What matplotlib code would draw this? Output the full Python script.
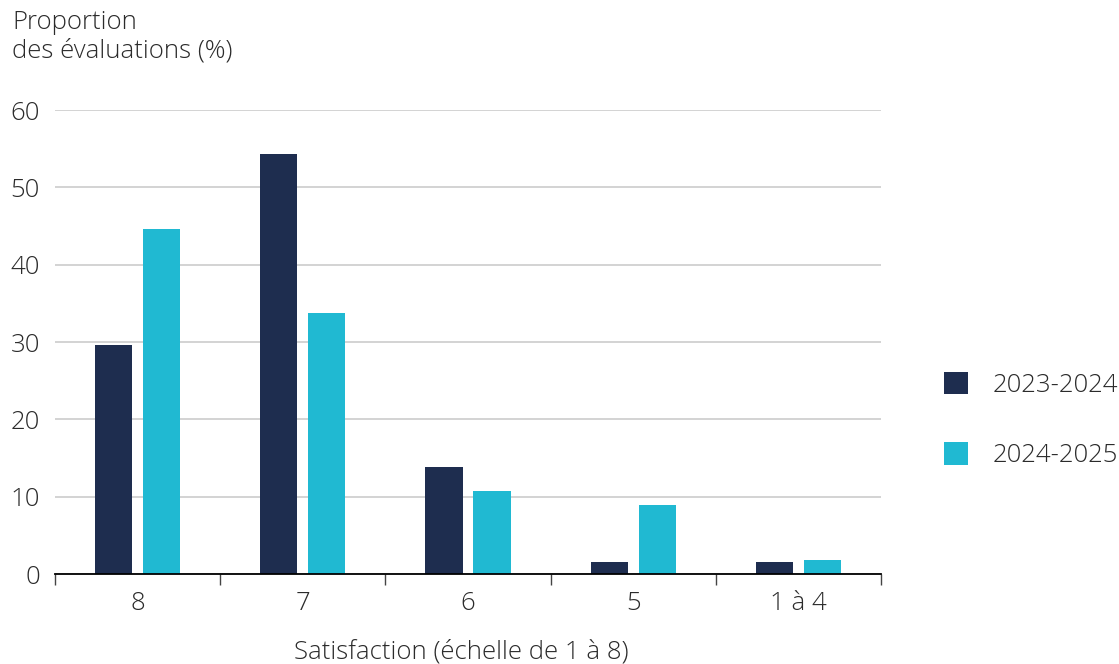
import numpy as np
import matplotlib.pyplot as plt
from matplotlib.patches import Patch
from matplotlib.ticker import FixedLocator

plt.rcParams["font.family"] = ["Open Sans", "DejaVu Sans"]
plt.rcParams["font.weight"] = "light"
plt.rcParams["axes.labelweight"] = "light"

# data
categories = ["8", "7", "6", "5", "1 à 4"]
series_names = ["2023-2024", "2024-2025"]
values_2324 = [29.6, 54.3, 13.9, 1.5, 1.5]
values_2425 = [44.6, 33.8, 10.7, 8.9, 1.8]
y_ticks = [0, 10, 20, 30, 40, 50, 60]

colors = ["#1e2d4f", "#20b9d2"]
text_color = "#2b2b2b"
fs = 18.5

fig = plt.figure(figsize=(11.19, 6.64), dpi=100)
ax = fig.add_axes([55 / 1119, 1 - 574 / 664, (881 - 55) / 1119, (574 - 110) / 664])

x = np.arange(len(categories))
width = 0.225
offset = 0.145
ax.bar(x - offset, values_2324, width, color=colors[0], zorder=3)
ax.bar(x + offset, values_2425, width, color=colors[1], zorder=3)

ax.set_xlim(-0.5, len(categories) - 0.5)
ax.set_ylim(0, 60)
ax.set_yticks(y_ticks)
ax.yaxis.grid(True, color="#cccccc", linewidth=1.2, zorder=0)
ax.tick_params(axis="y", length=0, pad=11, labelsize=fs, labelcolor=text_color)

ax.set_xticks(x)
ax.set_xticklabels(categories)
ax.tick_params(axis="x", which="major", length=0, pad=12, labelsize=fs, labelcolor=text_color)
ax.xaxis.set_minor_locator(FixedLocator(np.arange(-0.5, len(categories), 1.0)))
ax.tick_params(axis="x", which="minor", length=8, width=1, color="#444444")

for side in ["top", "right", "left"]:
    ax.spines[side].set_visible(False)
ax.spines["bottom"].set_color("black")
ax.spines["bottom"].set_linewidth(1.3)
ax.spines["bottom"].set_zorder(4)

ax.set_xlabel("Satisfaction (échelle de 1 à 8)", fontsize=fs, color=text_color,
              fontweight="light")
ax.xaxis.set_label_coords((461 - 55) / 826, -(652 - 574) / 464)
ax.xaxis.label.set_va("center")

fig.text(12 / 1119, 1 - 10 / 664, "Proportion\ndes évaluations (%)", fontsize=fs,
         color=text_color, ha="left", va="top", linespacing=1.2, fontweight="light")

handles = [Patch(facecolor=c, edgecolor="none") for c in colors]
fig.legend(handles, series_names, loc="center left",
           bbox_to_anchor=(944 / 1119, 1 - 420 / 664), frameon=False,
           fontsize=fs, labelcolor=text_color, handlelength=0.95, handleheight=0.95,
           handletextpad=0.95, labelspacing=1.75, borderpad=0, borderaxespad=0)

fig.savefig("out.png", dpi=100)
